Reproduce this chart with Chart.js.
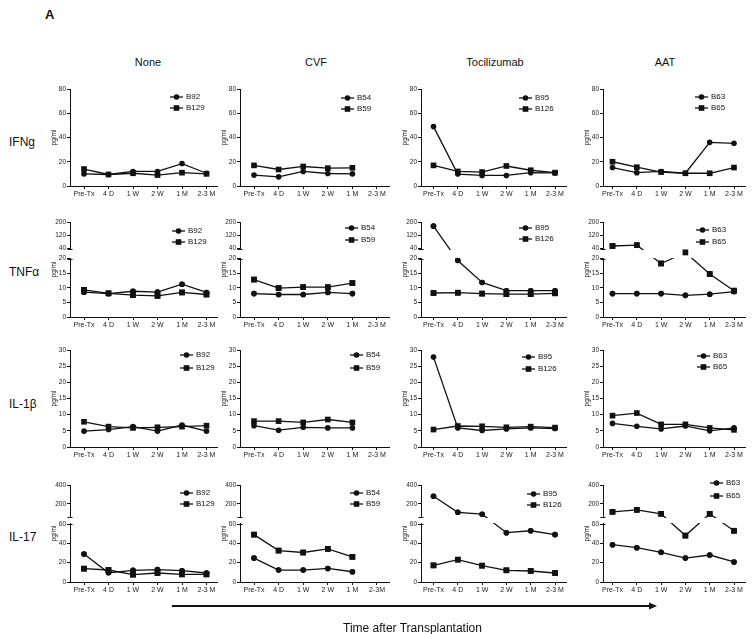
<!DOCTYPE html>
<html><head><meta charset="utf-8">
<script src="https://cdn.jsdelivr.net/npm/chart.js@4.4.1/dist/chart.umd.min.js"></script>
<style>
html,body{margin:0;padding:0;background:#fff;}
body{width:754px;height:634px;position:relative;overflow:hidden;font-family:"Liberation Sans",Arial,Helvetica,sans-serif;color:#111;}
.abs{position:absolute;white-space:nowrap;line-height:1;}
canvas{position:absolute;}
.hdr{font-size:11px;transform:translate(-50%,-50%);}
.rowlab{font-size:12px;transform:translateY(-50%);}
.leg{font-size:8px;transform:translateY(-50%);display:flex;align-items:center;}
.leg svg{margin-right:3px;}
</style></head><body>
<script>
// ---------- DATA ----------
const categories = ['Pre-Tx','4 D','1 W','2 W','1 M','2-3 M'];
const categoriesCvfIl17 = ['Pre-Tx','4 D','1 W','2 W','1 M','2-3M'];
const treatments = ['None','CVF','Tocilizumab','AAT'];
const cytokines = ['IFNg','TNFα','IL-1β','IL-17'];
const donorsNone = ['B92','B129'];
const donorsCvf = ['B54','B59'];
const donorsToc = ['B95','B126'];
const donorsAat = ['B63','B65'];

const ifngNoneB92  = [10, 9.5, 12, 12, 18.5, 10.5];
const ifngNoneB129 = [14, 9.5, 10.5, 9, 11, 10];
const ifngCvfB54   = [9, 7.5, 12, 10.3, 10, null];
const ifngCvfB59   = [17, 13.6, 16.1, 14.7, 15, null];
const ifngTocB95   = [49, 9.8, 8.7, 8.7, 11, 10.8];
const ifngTocB126  = [17, 12, 11.5, 16.5, 13, 11];
const ifngAatB63   = [15.2, 11, 12, 10.5, 36, 35.2];
const ifngAatB65   = [20, 15.5, 11.5, 10.5, 10.5, 15.2];

const tnfNoneB92  = [8.5, 8.0, 8.8, 8.5, 11.2, 8.4];
const tnfNoneB129 = [9.3, 8.1, 7.5, 7.2, 8.4, 7.7];
const tnfCvfB54   = [8.0, 7.7, 7.7, 8.4, 8.0, null];
const tnfCvfB59   = [12.8, 9.9, 10.2, 10.2, 11.6, null];
const tnfTocB95   = [175, 19.3, 11.8, 9.0, 9.0, 9.0];
const tnfTocB126  = [8.2, 8.3, 8.0, 7.8, 7.8, 8.1];
const tnfAatB63   = [8.0, 8.0, 8.0, 7.4, 7.8, 8.7];
const tnfAatB65   = [55, 60, 18.3, 32, 14.7, 9.0];

const il1bNoneB92  = [4.9, 5.4, 6.3, 4.9, 6.8, 4.9];
const il1bNoneB129 = [7.8, 6.3, 5.9, 6.1, 6.3, 6.6];
const il1bCvfB54   = [6.6, 5.2, 6.1, 5.9, 5.9, null];
const il1bCvfB59   = [8.0, 8.0, 7.6, 8.5, 7.6, null];
const il1bTocB95   = [27.8, 5.9, 5.1, 5.6, 5.9, 5.7];
const il1bTocB126  = [5.4, 6.5, 6.4, 6.1, 6.3, 6.0];
const il1bAatB63   = [7.3, 6.4, 5.6, 6.5, 5.0, 5.9];
const il1bAatB65   = [9.7, 10.5, 7.0, 7.0, 5.9, 5.3];

const il17NoneB92  = [29, 9.5, 12, 12.8, 11.7, 9.3];
const il17NoneB129 = [13.8, 12.4, 7.6, 9.3, 7.9, 7.9];
const il17CvfB54   = [24.7, 12.3, 12.3, 14, 10.6, null];
const il17CvfB59   = [49, 32.5, 30.5, 34.2, 26, null];
const il17TocB95   = [280, 110, 90, 51, 53, 49];
const il17TocB126  = [17.2, 23.1, 16.9, 12.1, 11.4, 9.3];
const il17AatB63   = [38.6, 35.5, 30.7, 24.8, 27.9, 20.7];
const il17AatB65   = [115, 136, 94, 48, 94, 53];

const ifngTicks = [0, 20, 40, 60, 80];
const tnfTicks  = [0, 5, 10, 15, 20, 40, 120, 200];
const il1bTicks = [0, 5, 10, 15, 20, 25, 30];
const il17Ticks = [0, 20, 40, 60, 200, 400];

// ---------- TABLES BUILT FROM DATA ----------
const donorTable = [donorsNone, donorsCvf, donorsToc, donorsAat];
const tickTable = [ifngTicks, tnfTicks, il1bTicks, il17Ticks];
const seriesTable = [
  [[ifngNoneB92, ifngNoneB129], [ifngCvfB54, ifngCvfB59], [ifngTocB95, ifngTocB126], [ifngAatB63, ifngAatB65]],
  [[tnfNoneB92, tnfNoneB129], [tnfCvfB54, tnfCvfB59], [tnfTocB95, tnfTocB126], [tnfAatB63, tnfAatB65]],
  [[il1bNoneB92, il1bNoneB129], [il1bCvfB54, il1bCvfB59], [il1bTocB95, il1bTocB126], [il1bAatB63, il1bAatB65]],
  [[il17NoneB92, il17NoneB129], [il17CvfB54, il17CvfB59], [il17TocB95, il17TocB126], [il17AatB63, il17AatB65]]
];

// ---------- LAYOUT (positions / styles) ----------
const FONT = '"Liberation Sans", Arial, Helvetica, sans-serif';
const INK = '#111';
const colGeom = [
  {axis: 70,  first: 84,    step: 24.5, right: 217},
  {axis: 240, first: 254,   step: 24.6, right: 389},
  {axis: 421, first: 433.5, step: 24.3, right: 566},
  {axis: 603, first: 612.5, step: 24.3, right: 745}
];
const rowGeom = [
  {top: 89,  bottom: 186, min: 0, max: 80},
  {top: 222, bottom: 317, min: 0, max: 200, brk: {lowMax: 20, highMin: 40, highMax: 200, lowPx: 58.5, gapPx: 10, highPx: 26.5}},
  {top: 350, bottom: 447, min: 0, max: 30},
  {top: 485, bottom: 582, min: 0, max: 400, brk: {lowMax: 60, highMin: 60, highMax: 400, lowPx: 58, gapPx: 7, highPx: 32}}
];
const legendGeom = [
  [{x:170,y:96.7,dy:11},{x:341,y:98.3,dy:11},{x:519,y:98.3,dy:11},{x:695,y:96.7,dy:11.6}],
  [{x:172,y:231,dy:11.3},{x:345,y:227.7,dy:12.3},{x:519,y:227.7,dy:11.6},{x:696,y:230,dy:11.7}],
  [{x:180,y:355,dy:13.3},{x:350,y:355,dy:13},{x:522,y:357,dy:11.5},{x:697,y:355.7,dy:11}],
  [{x:180,y:493.3,dy:10.7},{x:350,y:493,dy:11},{x:527,y:494,dy:11},{x:710,y:483.3,dy:12.7}]
];
const headerX = [148, 316, 495, 665];
const rowLabelY = [142, 272, 404, 537];

Chart.defaults.font.family = FONT;

// ---------- broken y scale ----------
const BRK = new Map();
class BrokenScale extends Chart.LinearScale {
  buildTicks() {
    const cfg = BRK.get(this.chart.canvas.id);
    this.start = this.min; this.end = this.max;
    return cfg.ticks.map(v => ({value: v}));
  }
  getPixelForValue(value) {
    const cfg = BRK.get(this.chart.canvas.id);
    const b = cfg && cfg.brk;
    if (!b) return super.getPixelForValue(value);
    if (value === null || value === undefined) return NaN;
    const total = b.lowPx + b.gapPx + b.highPx;
    let d;
    if (value <= b.lowMax) d = value / b.lowMax * b.lowPx;
    else if (value < b.highMin) d = b.lowPx + (value - b.lowMax) / (b.highMin - b.lowMax) * b.gapPx;
    else d = b.lowPx + b.gapPx + (value - b.highMin) / (b.highMax - b.highMin) * b.highPx;
    return this.bottom - d / total * this.height;
  }
}
BrokenScale.id = 'broken';
BrokenScale.defaults = Chart.LinearScale.defaults;
Chart.register(BrokenScale);

const breakPlugin = {
  id: 'axisBreak',
  afterDatasetsDraw(chart) {
    const cfg = BRK.get(chart.canvas.id);
    if (!cfg || !cfg.brk) return;
    const b = cfg.brk, y = chart.scales.y, ca = chart.chartArea, ctx = chart.ctx;
    const total = b.lowPx + b.gapPx + b.highPx;
    const yLowTop = y.bottom - b.lowPx / total * y.height;
    const yHighBot = y.bottom - (b.lowPx + b.gapPx) / total * y.height;
    ctx.save();
    ctx.clearRect(ca.left - 1.5, yHighBot + 1, ca.right - ca.left + 20, yLowTop - yHighBot - 2);
    const full = {left: 0, top: 0, right: chart.width, bottom: chart.height};
    chart.data.datasets.forEach((ds, i) => {
      chart.getDatasetMeta(i).data.forEach(pt => pt.draw(ctx, full));
    });
    ctx.strokeStyle = INK; ctx.lineWidth = 1;
    ctx.beginPath();
    const a = Math.round(yHighBot) + 0.5, c = Math.round(yLowTop) + 0.5;
    ctx.moveTo(ca.left - 2.5, a); ctx.lineTo(ca.left + 2.5, a);
    ctx.moveTo(ca.left - 2.5, c); ctx.lineTo(ca.left + 2.5, c);
    ctx.stroke();
    ctx.restore();
  }
};

function el(tag, cls, css, html) {
  const e = document.createElement(tag);
  if (cls) e.className = cls;
  Object.assign(e.style, css);
  if (html !== undefined) e.innerHTML = html;
  document.body.appendChild(e);
  return e;
}

function markerSvg(k) {
  const m = k === 0 ? '<circle cx="6.5" cy="4" r="2.8" fill="#111"/>' : '<rect x="3.7" y="1.2" width="5.6" height="5.6" fill="#111"/>';
  return '<svg width="13" height="8" viewBox="0 0 13 8"><line x1="0" y1="4" x2="13" y2="4" stroke="#111" stroke-width="1.3"/>' + m + '</svg>';
}

function makePanel(r, c) {
  const cg = colGeom[c], rg = rowGeom[r];
  const YW = 22, PT = 8, PR = 12, XH = 16;
  const plotW = cg.right - cg.axis, plotH = rg.bottom - rg.top;
  const W = Math.round(YW + plotW + PR), H = Math.round(PT + plotH + XH);
  const cv = document.createElement('canvas');
  cv.id = 'p' + r + c;
  cv.width = W; cv.height = H;
  Object.assign(cv.style, {left: (cg.axis - YW) + 'px', top: (rg.top - PT) + 'px', width: W + 'px', height: H + 'px'});
  document.body.appendChild(cv);
  BRK.set(cv.id, {brk: rg.brk, ticks: tickTable[r]});
  const labels = (r === 3 && c === 1) ? categoriesCvfIl17 : categories;
  const names = donorTable[c];
  const series = seriesTable[r][c];
  const xmin = -(cg.first - cg.axis) / cg.step;
  const xmax = 5 + (cg.right - (cg.first + 5 * cg.step)) / cg.step;
  const gridOpts = {display: true, drawOnChartArea: false, drawTicks: true, tickLength: 3, color: INK, lineWidth: 1};
  new Chart(cv, {
    type: 'line',
    data: {
      datasets: series.map((vals, k) => ({
        label: names[k],
        data: vals.map((v, i) => ({x: i, y: v})),
        borderColor: INK, backgroundColor: INK, borderWidth: 1.3,
        pointStyle: k === 0 ? 'circle' : 'rect',
        pointRadius: k === 0 ? 2.8 : 4, pointBorderWidth: 0,
        tension: 0, spanGaps: false, clip: false
      }))
    },
    options: {
      responsive: false, animation: false, events: [],
      layout: {padding: {left: 0, top: PT, right: PR, bottom: 0}},
      plugins: {legend: {display: false}, tooltip: {enabled: false}},
      scales: {
        x: {
          type: 'linear', min: xmin, max: xmax,
          grid: gridOpts, border: {display: true, color: INK, width: 1},
          ticks: {autoSkip: false, maxRotation: 0, padding: 1, font: {size: 7}, color: '#222',
                  callback: (v, i) => labels[i]},
          afterBuildTicks: s => { s.ticks = labels.map((_, i) => ({value: i})); },
          afterFit: s => { s.height = XH; s.paddingLeft = 0; s.paddingRight = 0; }
        },
        y: {
          type: 'broken', min: rg.min, max: rg.max,
          grid: gridOpts, border: {display: true, color: INK, width: 1},
          ticks: {autoSkip: false, padding: 1, font: {size: 6.5}, color: '#222'},
          title: {display: true, text: 'pg/ml', font: {size: 6.5}, color: '#222', padding: {top: 2, bottom: 0}},
          afterFit: s => { s.width = YW; s.paddingTop = 0; s.paddingBottom = 0; }
        }
      }
    },
    plugins: [breakPlugin]
  });
  const lg = legendGeom[r][c];
  names.forEach((n, k) => {
    el('div', 'abs leg', {left: lg.x + 'px', top: (lg.y + k * lg.dy) + 'px'}, markerSvg(k) + '<span>' + n + '</span>');
  });
}

// ---------- texts ----------
el('div', 'abs', {left: '45px', top: '8px', fontSize: '13px', fontWeight: 'bold'}, 'A');
treatments.forEach((t, i) => el('div', 'abs hdr', {left: headerX[i] + 'px', top: '62px'}, t));
cytokines.forEach((t, i) => el('div', 'abs rowlab', {left: '9px', top: rowLabelY[i] + 'px'}, t));

for (let r = 0; r < 4; r++) for (let c = 0; c < 4; c++) makePanel(r, c);

// arrow + axis caption
el('div', 'abs', {left: '0px', top: '0px'},
  '<svg width="754" height="634" style="position:absolute;left:0;top:0"><line x1="172" y1="606" x2="649" y2="606" stroke="#111" stroke-width="2"/><polygon points="649,602.5 657,606 649,609.5" fill="#111"/></svg>');
el('div', 'abs', {left: '343px', top: '622px', fontSize: '12px'}, 'Time after Transplantation');
</script>
</body></html>
